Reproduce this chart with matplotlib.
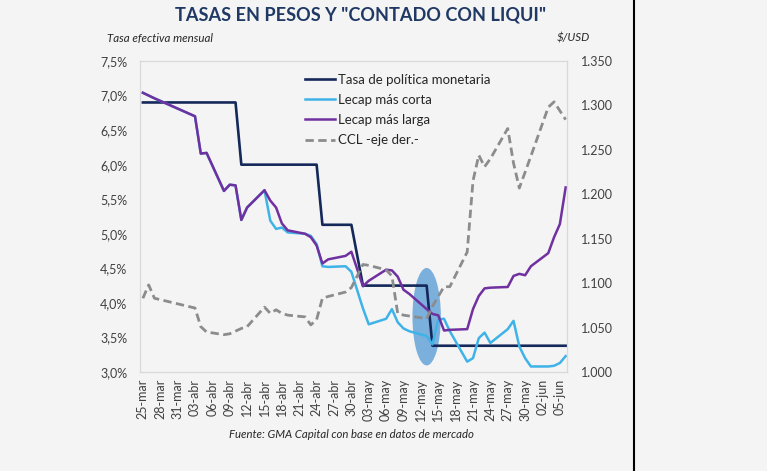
import pandas as pd
import numpy as np
import matplotlib
matplotlib.use('Agg')
import matplotlib.pyplot as plt
import matplotlib.dates as mdates
from matplotlib.patches import Ellipse
from matplotlib.lines import Line2D
from matplotlib.ticker import FuncFormatter

plt.rcParams['font.family'] = ['Lato', 'DejaVu Sans']

# dias habiles con dato
fechas = ['2024-03-25', '2024-03-26', '2024-03-27', '2024-04-03', '2024-04-04',
          '2024-04-05', '2024-04-08', '2024-04-09', '2024-04-10', '2024-04-11',
          '2024-04-12', '2024-04-15', '2024-04-16', '2024-04-17', '2024-04-18',
          '2024-04-19', '2024-04-22', '2024-04-23', '2024-04-24', '2024-04-25',
          '2024-04-26', '2024-04-29', '2024-04-30', '2024-05-02', '2024-05-03',
          '2024-05-06', '2024-05-07', '2024-05-08', '2024-05-09', '2024-05-10',
          '2024-05-13', '2024-05-14', '2024-05-15', '2024-05-16', '2024-05-17',
          '2024-05-20', '2024-05-21', '2024-05-22', '2024-05-23', '2024-05-24',
          '2024-05-27', '2024-05-28', '2024-05-29', '2024-05-30', '2024-05-31',
          '2024-06-03', '2024-06-04', '2024-06-05', '2024-06-06']

tasa_pm = [6.9] * 9 + [6.0] * 10 + [5.13] * 4 + [4.25] * 8 + [3.38] * 18

lecap_larga = [7.04, 7.00, 6.96, 6.70, 6.16, 6.17, 5.62, 5.71, 5.70, 5.20,
               5.38, 5.63, 5.48, 5.38, 5.15, 5.05, 5.00, 4.95, 4.83, 4.57,
               4.63, 4.68, 4.74, 4.24, 4.32, 4.48, 4.47, 4.38, 4.19, 4.13,
               3.91, 3.84, 3.82, 3.60, 3.61, 3.62, 3.91, 4.10, 4.21, 4.22,
               4.23, 4.39, 4.42, 4.40, 4.53, 4.72, 4.95, 5.14, 5.67]

lecap_corta = [7.04, 7.00, 6.96, 6.70, 6.16, 6.17, 5.62, 5.71, 5.70, 5.20,
               5.38, 5.63, 5.19, 5.07, 5.09, 5.02, 5.00, 4.97, 4.85, 4.53,
               4.52, 4.53, 4.45, 3.92, 3.69, 3.77, 3.91, 3.72, 3.63, 3.59,
               3.52, 3.40, 3.76, 3.77, 3.59, 3.15, 3.20, 3.49, 3.57, 3.42,
               3.62, 3.74, 3.37, 3.20, 3.08, 3.08, 3.09, 3.13, 3.23]

ccl = [1083, 1098, 1083, 1072, 1051, 1045, 1042, 1043, 1046, 1049,
       1051, 1073, 1066, 1070, 1066, 1064, 1062, 1053, 1059, 1083,
       1085, 1090, 1095, 1121, 1120, 1115, 1108, 1066, 1064, 1063,
       1060, 1074, 1085, 1096, 1096, 1135, 1215, 1244, 1231, 1240,
       1274, 1235, 1207, 1225, 1243, 1298, 1304, 1294, 1284]

etiquetas_x = ['25-mar', '28-mar', '31-mar', '03-abr', '06-abr', '09-abr', '12-abr',
               '15-abr', '18-abr', '21-abr', '24-abr', '27-abr', '30-abr', '03-may',
               '06-may', '09-may', '12-may', '15-may', '18-may', '21-may', '24-may',
               '27-may', '30-may', '02-jun', '05-jun']
meses = {'mar': 3, 'abr': 4, 'may': 5, 'jun': 6}

x = pd.to_datetime(fechas)
pos_x = [pd.Timestamp(2024, meses[e[3:]], int(e[:2])) for e in etiquetas_x]

fondo = '#f4f4f4'
fig = plt.figure(figsize=(7.67, 4.71), dpi=100, facecolor=fondo)
ax = fig.add_axes([0.1825, 0.2102, 0.5565, 0.6603])
ax.set_facecolor(fondo)
ax2 = ax.twinx()

l1, = ax.plot(x, tasa_pm, color='#14285a', lw=1.9, label='Tasa de política monetaria')
l2, = ax.plot(x, lecap_corta, color='#3fb3e8', lw=1.8, label='Lecap más corta')
l3, = ax.plot(x, lecap_larga, color='#7030a0', lw=1.8, label='Lecap más larga')
l4, = ax2.plot(x, ccl, color='#8c8c8c', lw=2, dashes=(3, 1.6), label='CCL -eje der.-')

# elipse que marca el recorte del 14-may
elip = Ellipse((mdates.date2num(pd.Timestamp('2024-05-13')), 3.80), width=4.9, height=1.41,
               facecolor='#7bafdc', edgecolor='none', zorder=1)
ax.add_patch(elip)

ax.set_ylim(3.0, 7.5)
ax2.set_ylim(1000, 1350)
ax.set_yticks(np.arange(3.0, 7.51, 0.5))
ax2.set_yticks(np.arange(1000, 1351, 50))
ax.yaxis.set_major_formatter(FuncFormatter(lambda v, p: f'{v:.1f}%'.replace('.', ',')))
ax2.yaxis.set_major_formatter(FuncFormatter(lambda v, p: f'{v:,.0f}'.replace(',', '.')))

ax.set_xlim(mdates.date2num(x[0]) - 0.5, mdates.date2num(x[-1]) + 0.2)
ax.set_xticks(pos_x)
ax.set_xticklabels(etiquetas_x, rotation=90)

for a in (ax, ax2):
    a.tick_params(length=0, labelsize=9, colors='#404040')
    for s in a.spines.values():
        s.set_color('#d9d9d9')
        s.set_linewidth(0.8)
ax.tick_params(axis='y', pad=9)
ax2.tick_params(axis='y', pad=10)
ax.tick_params(axis='x', pad=5)

ax.legend(handles=[l1, l2, l3, l4], loc='upper left', bbox_to_anchor=(298 / 767, 1 - 67 / 471),
          bbox_transform=fig.transFigure, frameon=False, fontsize=9.5, handlelength=2.3,
          handletextpad=0.25, labelspacing=0.62, borderpad=0, labelcolor='#262626')

fig.text(0.47, 0.968, 'TASAS EN PESOS Y "CONTADO CON LIQUI"', ha='center', va='center',
         fontsize=13.1, fontweight='bold', color='#1f3864')
fig.text(107 / 767, 0.919, 'Tasa efectiva mensual', ha='left', va='center',
         fontsize=8.3, style='italic', color='#262626')
fig.text(590 / 767, 0.919, '$/USD', ha='right', va='center',
         fontsize=8.3, style='italic', color='#262626')
fig.text(351 / 767, 1 - 434 / 471, 'Fuente: GMA Capital con base en datos de mercado',
         ha='center', va='center', fontsize=8.2, style='italic', color='#262626')

fig.add_artist(Line2D([634 / 767, 634 / 767], [0, 1], color='black', lw=1.5,
                      transform=fig.transFigure))

fig.savefig('out.png', dpi=100, facecolor=fondo)
